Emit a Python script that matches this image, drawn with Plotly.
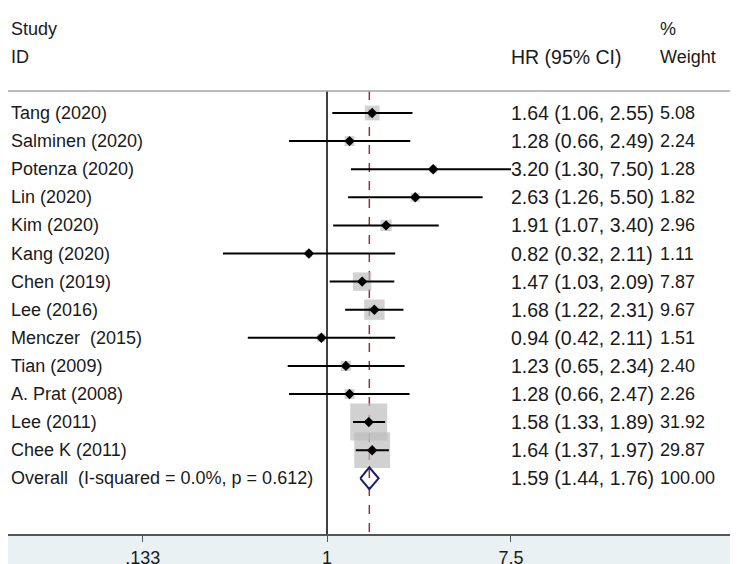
import plotly.graph_objects as go
import numpy as np

studies = ["Tang (2020)", "Salminen (2020)", "Potenza (2020)", "Lin (2020)", "Kim (2020)",
           "Kang (2020)", "Chen (2019)", "Lee (2016)", "Menczer  (2015)", "Tian (2009)",
           "A. Prat (2008)", "Lee (2011)", "Chee K (2011)"]
hr = [1.64, 1.28, 3.20, 2.63, 1.91, 0.82, 1.47, 1.68, 0.94, 1.23, 1.28, 1.58, 1.64]
lo = [1.06, 0.66, 1.30, 1.26, 1.07, 0.32, 1.03, 1.22, 0.42, 0.65, 0.66, 1.33, 1.37]
hi = [2.55, 2.49, 7.50, 5.50, 3.40, 2.11, 2.09, 2.31, 2.11, 2.34, 2.47, 1.89, 1.97]
weight = [5.08, 2.24, 1.28, 1.82, 2.96, 1.11, 7.87, 9.67, 1.51, 2.40, 2.26, 31.92, 29.87]

overall_label = "Overall  (I-squared = 0.0%, p = 0.612)"
overall_hr, overall_lo, overall_hi = 1.59, 1.44, 1.76
overall_weight = 100.00

tick_vals = [0.133, 1, 7.5]
tick_text = [".133", "1", "7.5"]

# page body adds an 8px margin, so the figure is drawn 8px smaller and shifted
OFF = 8
W, H = 738 - OFF, 564 - OFF
FONT = "Liberation Sans, Arial, sans-serif"
n = len(studies)
rows = [-i for i in range(n)]
y_over = -n
PLOT_H = 534 - OFF
PX_ROW = 28.1
y_max = (113 - OFF) / PX_ROW
y_min = y_max - PLOT_H / PX_ROW
y_top = y_max - (91 - OFF) / PX_ROW  # header rule

# log10 range: value 1 sits at x=327 (page), 210.2 px per decade
PX_DEC = 210.2
x_lo = -(327 - OFF) / PX_DEC
x_hi = x_lo + W / PX_DEC

fig = go.Figure()

# null line and overall dashed line
fig.add_trace(go.Scatter(x=[1, 1], y=[y_top, y_min], mode="lines",
                         line=dict(color="black", width=1.5), hoverinfo="skip"))
fig.add_trace(go.Scatter(x=[overall_hr, overall_hr], y=[y_top, y_min], mode="lines",
                         line=dict(color="#8e3434", width=1.5, dash="dash"), hoverinfo="skip"))

# weight boxes
fig.add_trace(go.Scatter(x=hr, y=rows, mode="markers",
                         marker=dict(symbol="square", color="#bdbdbd",
                                     size=[6.55 * np.sqrt(w) for w in weight],
                                     line=dict(width=0)),
                         hoverinfo="skip"))

# CI lines
cx, cy = [], []
for l, h, r in zip(lo, hi, rows):
    cx += [l, h, None]
    cy += [r, r, None]
fig.add_trace(go.Scatter(x=cx, y=cy, mode="lines", line=dict(color="black", width=2),
                         hoverinfo="skip"))

# point estimates
fig.add_trace(go.Scatter(x=hr, y=rows, mode="markers",
                         marker=dict(symbol="diamond", color="black", size=8),
                         hoverinfo="skip"))

# overall diamond
dh = 0.39
fig.add_trace(go.Scatter(x=[overall_lo, overall_hr, overall_hi, overall_hr, overall_lo],
                         y=[y_over, y_over + dh, y_over, y_over - dh, y_over],
                         mode="lines", line=dict(color="#1c1c6e", width=2),
                         hoverinfo="skip"))

ann = []
def txt(s, px, y, size=18):
    ann.append(dict(text=s, x=(px - OFF) / W, xref="paper", y=y, yref="y", xanchor="left",
                    yanchor="middle", showarrow=False,
                    font=dict(family=FONT, size=size, color="#1a1a1a")))

txt("Study", 9, 3)
txt("ID", 9, 2)
txt("HR (95% CI)", 509, 2, 19.5)
txt("%", 658, 3)
txt("Weight", 658, 2)
for s, h, l, u, w, r in zip(studies, hr, lo, hi, weight, rows):
    txt(s, 9, r)
    txt(f"{h:.2f} ({l:.2f}, {u:.2f})", 509, r, 19.5)
    txt(f"{w:.2f}", 658, r)
txt(overall_label, 9, y_over)
txt(f"{overall_hr:.2f} ({overall_lo:.2f}, {overall_hi:.2f})", 509, y_over, 19.5)
txt(f"{overall_weight:.2f}", 658, y_over)

fig.update_layout(
    width=W, height=H,
    margin=dict(l=0, r=0, t=0, b=H - PLOT_H),
    paper_bgcolor="#eaf1f3", plot_bgcolor="white",
    showlegend=False,
    annotations=ann,
    shapes=[dict(type="line", xref="paper", yref="y", x0=-0.02, x1=1, y0=y_top, y1=y_top,
                 line=dict(color="#a6a6a6", width=1.5))],
    xaxis=dict(type="log", range=[x_lo, x_hi], tickvals=tick_vals, ticktext=tick_text,
               showgrid=False, zeroline=False, showline=True, linecolor="#555555",
               linewidth=2, ticks="outside", ticklen=6, tickcolor="#555555",
               ticklabelstandoff=0, automargin=False,
               tickfont=dict(family=FONT, size=18, color="#1a1a1a"), fixedrange=True),
    yaxis=dict(range=[y_min, y_max], visible=False, fixedrange=True, automargin=False),
)

fig.write_html("out.html")
